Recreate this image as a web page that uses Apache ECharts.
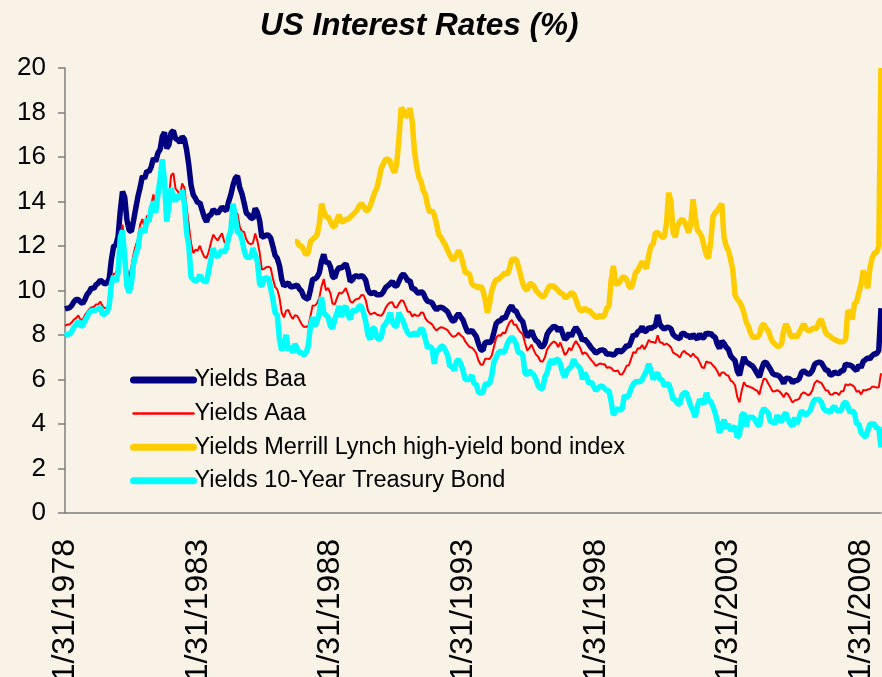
<!DOCTYPE html>
<html><head><meta charset="utf-8">
<script src="https://cdn.jsdelivr.net/npm/echarts@6/dist/echarts.min.js"></script>
<style>html,body{margin:0;padding:0;background:#F9F2E7;}#c{width:882px;height:677px;}</style>
</head><body><div id="c"></div>
<script>
// Month-end observation dates, Jan 1978 .. Oct 2008
const firstYear = 1978;
const lastYear = 2008, lastMonth = 10;
const categories = [];
for (let y = firstYear; y <= lastYear; y++) {
  for (let m = 1; m <= 12; m++) {
    if (y === lastYear && m > lastMonth) break;
    const d = new Date(y, m, 0).getDate();
    categories.push(m + '/' + d + '/' + y);
  }
}
const yTicks = [0, 2, 4, 6, 8, 10, 12, 14, 16, 18, 20];

const seriesNames = ['Yields Baa', 'Yields Aaa', 'Yields Merrill Lynch high-yield bond index', 'Yields 10-Year Treasury Bond'];
const seriesColors = ['#000080', '#FF0000', '#FFCC00', '#00FFFF'];

const baa = [
9.17,9.20,9.22,9.32,9.49,9.60,9.60,9.48,9.42,9.59,9.83,9.94,
10.13,10.08,10.26,10.33,10.47,10.38,10.29,10.35,10.54,11.40,11.99,12.06,
12.42,13.57,14.45,14.19,13.17,12.71,12.65,13.15,13.70,14.23,14.64,15.14,
15.03,15.37,15.34,15.56,15.95,15.80,16.17,16.34,16.92,17.11,16.39,16.55,
17.10,17.18,16.82,16.78,16.64,16.92,16.80,16.32,15.63,14.73,14.30,14.14,
13.94,13.95,13.61,13.29,13.09,13.37,13.39,13.64,13.55,13.46,13.61,13.75,
13.65,13.59,13.99,14.31,14.74,15.05,15.15,14.63,14.35,13.94,13.48,13.40,
13.26,13.23,13.69,13.51,13.15,12.40,12.43,12.50,12.48,12.36,11.99,11.58,
11.44,11.11,10.50,10.19,10.29,10.34,10.16,10.18,10.20,10.24,10.07,9.97,
9.72,9.65,9.61,10.04,10.51,10.52,10.61,10.80,11.31,11.62,11.23,11.29,
11.07,10.62,10.57,10.90,11.04,11.00,11.11,11.21,10.90,10.41,10.48,10.65,
10.65,10.61,10.67,10.61,10.46,10.03,9.87,9.88,9.91,9.81,9.81,9.82,
9.94,10.14,10.21,10.30,10.41,10.22,10.20,10.41,10.64,10.74,10.62,10.43,
10.45,10.07,10.09,9.94,9.86,9.96,9.89,9.65,9.51,9.49,9.45,9.26,
9.13,9.23,9.25,9.21,9.13,9.05,8.84,8.65,8.62,8.84,8.96,8.81,
8.67,8.39,8.15,8.14,8.21,8.07,7.93,7.60,7.34,7.31,7.66,7.69,
7.65,7.76,8.13,8.52,8.62,8.65,8.80,8.74,8.98,9.20,9.32,9.10,
9.08,8.85,8.70,8.60,8.20,7.90,8.04,8.19,7.93,7.75,7.68,7.49,
7.47,7.63,8.03,8.19,8.30,8.40,8.35,8.18,8.35,8.07,7.79,7.89,
8.09,7.94,8.18,8.34,8.20,8.02,7.75,7.82,7.70,7.57,7.42,7.32,
7.19,7.25,7.32,7.33,7.30,7.13,7.15,7.14,7.09,7.18,7.34,7.23,
7.29,7.39,7.53,7.48,7.72,8.02,7.95,8.15,8.20,8.38,8.15,8.19,
8.33,8.29,8.37,8.40,8.90,8.48,8.35,8.26,8.35,8.34,8.28,8.02,
7.93,7.87,7.84,8.07,8.07,7.97,7.97,7.85,8.03,7.91,7.81,8.05,
7.87,7.89,8.11,8.03,8.09,7.95,7.90,7.58,7.40,7.73,7.62,7.45,
7.35,7.06,6.95,6.85,6.38,6.19,6.62,7.01,6.79,6.73,6.66,6.60,
6.44,6.27,6.11,6.46,6.75,6.78,6.62,6.46,6.27,6.21,6.20,6.15,
6.02,5.82,6.06,6.05,6.01,5.86,5.95,5.96,6.03,6.30,6.39,6.32,
6.24,6.27,6.41,6.68,6.75,6.78,6.76,6.59,6.43,6.42,6.20,6.22,
6.34,6.28,6.27,6.39,6.39,6.70,6.65,6.65,6.59,6.48,6.40,6.65,
6.54,6.82,6.89,6.97,6.93,7.07,7.16,7.15,7.31,9.21
];

const aaa = [
8.41,8.47,8.47,8.56,8.69,8.76,8.88,8.69,8.69,8.89,9.03,9.16,
9.25,9.26,9.37,9.38,9.50,9.29,9.20,9.23,9.44,10.13,10.76,10.74,
11.09,12.38,12.96,12.04,10.99,10.58,11.07,11.64,12.02,12.31,12.97,13.21,
12.81,13.35,13.33,13.88,14.32,13.75,14.38,14.89,15.49,15.40,14.22,14.23,
15.18,15.27,14.58,14.46,14.26,14.81,14.61,13.71,12.94,12.12,11.68,11.83,
11.79,12.01,11.73,11.51,11.46,11.74,12.15,12.51,12.37,12.25,12.41,12.57,
12.20,12.08,12.57,12.81,13.28,13.55,13.44,12.87,12.66,12.63,12.29,12.13,
12.08,12.13,12.56,12.23,11.72,10.94,10.97,11.05,11.07,11.02,10.55,10.16,
10.05,9.67,9.00,8.79,9.09,9.13,8.88,8.72,8.89,8.86,8.68,8.49,
8.36,8.38,8.36,8.85,9.33,9.32,9.42,9.67,10.18,10.52,10.01,10.11,
9.88,9.40,9.39,9.67,9.90,9.86,9.96,10.11,9.82,9.51,9.45,9.57,
9.62,9.64,9.80,9.79,9.57,9.10,8.93,8.96,9.01,8.92,8.89,8.86,
8.99,9.22,9.37,9.46,9.47,9.26,9.24,9.41,9.56,9.53,9.30,9.05,
9.04,8.83,8.93,8.86,8.86,9.01,9.00,8.75,8.61,8.55,8.48,8.31,
8.20,8.29,8.35,8.33,8.28,8.22,8.07,7.95,7.92,7.99,8.10,7.98,
7.91,7.71,7.58,7.46,7.43,7.33,7.17,6.85,6.66,6.67,6.93,6.93,
6.92,7.08,7.48,7.88,7.99,7.97,8.11,8.07,8.34,8.57,8.68,8.46,
8.46,8.26,8.12,8.03,7.65,7.30,7.41,7.57,7.32,7.12,7.02,6.82,
6.81,6.99,7.35,7.50,7.62,7.71,7.65,7.46,7.66,7.39,7.10,7.20,
7.42,7.31,7.55,7.73,7.58,7.41,7.14,7.22,7.15,7.00,6.87,6.76,
6.61,6.67,6.72,6.69,6.69,6.53,6.55,6.52,6.40,6.37,6.41,6.22,
6.24,6.40,6.62,6.64,6.93,7.23,7.19,7.40,7.39,7.55,7.36,7.55,
7.78,7.68,7.68,7.64,7.99,7.67,7.65,7.55,7.62,7.55,7.45,7.21,
7.15,7.10,6.98,7.20,7.29,7.18,7.13,7.02,7.17,7.03,6.97,6.77,
6.55,6.51,6.81,6.76,6.75,6.63,6.53,6.37,6.15,6.32,6.31,6.21,
6.17,5.95,5.89,5.74,5.22,4.97,5.49,5.88,5.72,5.70,5.65,5.62,
5.54,5.50,5.33,5.73,6.04,6.01,5.82,5.65,5.46,5.47,5.52,5.47,
5.36,5.20,5.40,5.33,5.15,4.96,5.06,5.09,5.13,5.35,5.42,5.37,
5.29,5.35,5.53,5.84,5.95,5.89,5.85,5.68,5.51,5.51,5.33,5.32,
5.40,5.39,5.30,5.47,5.47,5.79,5.73,5.79,5.74,5.66,5.44,5.49,
5.33,5.53,5.51,5.55,5.57,5.68,5.67,5.64,5.65,6.28
];

// Merrill Lynch high-yield index begins Sep 1986
const mlStartDate = '9/30/1986';
const ml = [
12.2,12.2,12.0,12.0,
11.8,11.6,11.7,12.2,12.3,12.4,12.5,13.0,13.9,13.6,13.3,13.3,
13.1,12.9,12.85,13.2,13.4,13.1,13.1,13.2,13.2,13.3,13.4,13.5,
13.6,13.8,13.9,13.8,13.6,13.6,13.8,14.1,14.4,14.6,15.0,15.5,
15.7,15.9,15.9,15.8,15.5,15.3,15.7,16.8,18.2,18.1,17.8,17.9,
18.2,17.6,16.3,15.6,15.1,14.9,14.5,14.3,13.8,13.5,13.6,13.4,
13.0,12.5,12.4,12.2,12.05,11.8,11.6,11.4,11.4,11.6,11.8,11.6,
11.2,10.8,10.8,10.7,10.3,10.2,10.2,10.1,10.2,10.0,9.6,9.0,
9.4,10.0,10.3,10.5,10.5,10.6,10.7,10.8,10.7,11.0,11.4,11.4,
11.4,11.1,10.7,10.3,10.1,10.0,10.3,10.3,10.2,10.0,9.9,9.8,
9.7,9.8,10.0,10.2,10.2,10.2,10.1,10.0,9.9,9.85,9.7,9.7,
9.8,9.9,9.85,9.6,9.3,9.1,9.1,9.2,9.1,9.1,9.0,8.9,
8.8,8.8,8.9,8.8,8.9,9.2,9.3,10.5,11.1,10.3,10.3,10.4,
10.6,10.6,10.5,10.2,10.1,10.4,10.8,10.9,11.1,11.3,11.1,11.0,
11.6,12.0,12.1,12.6,12.6,12.5,12.4,12.4,13.0,14.4,14.0,12.6,
12.4,12.9,13.1,13.2,13.1,12.9,12.6,13.0,14.1,13.3,12.7,12.6,
12.4,12.0,11.6,11.45,12.2,13.3,13.5,13.6,13.75,13.9,12.4,12.0,
11.8,11.4,10.9,9.8,9.6,9.5,9.3,9.0,8.6,8.4,8.1,7.9,
7.9,7.9,8.0,8.4,8.5,8.3,8.2,7.9,7.7,7.6,7.5,7.5,
7.6,8.2,8.5,8.3,8.0,7.9,8.0,7.9,8.1,8.3,8.5,8.3,
8.2,8.2,8.3,8.3,8.3,8.6,8.7,8.4,8.1,8.0,7.95,7.85,
7.8,7.75,7.7,7.7,7.7,7.8,9.1,9.0,8.7,9.4,9.5,9.9,
10.3,10.9,10.5,10.1,11.0,11.45,11.7,11.7,12.0,20.0
];

const t10 = [
7.96,8.03,8.04,8.15,8.35,8.46,8.64,8.41,8.42,8.64,8.81,9.01,
9.10,9.10,9.12,9.18,9.25,8.91,8.95,9.03,9.33,10.30,10.65,10.39,
10.8,12.4,12.7,11.5,10.2,9.9,10.3,11.2,11.6,11.9,12.6,12.8,
12.6,13.2,13.1,13.7,14.0,13.5,14.3,15.0,15.9,14.9,13.1,13.8,
14.6,14.2,14.0,14.3,14.1,14.5,13.9,12.6,12.0,10.6,10.5,10.4,
10.5,10.7,10.5,10.4,10.4,10.9,11.4,11.9,11.6,11.5,11.7,11.8,
11.7,11.9,12.4,12.7,13.9,13.3,12.6,12.6,12.3,11.8,11.5,11.5,
11.5,11.9,11.6,11.3,10.3,10.2,10.6,10.5,10.6,10.1,9.6,9.0,
8.9,7.8,7.3,7.6,8.0,7.3,7.5,7.2,7.6,7.4,7.2,7.2,
7.1,7.2,7.5,8.4,8.8,8.4,8.6,9.0,9.7,9.0,8.9,8.8,
8.4,8.3,8.7,9.0,9.3,8.8,9.2,9.3,8.9,8.7,9.1,9.1,
9.1,9.3,9.3,9.0,8.6,8.0,7.8,8.3,8.3,7.9,7.8,7.9,
8.4,8.5,8.7,9.0,8.6,8.4,8.4,9.0,8.8,8.6,8.3,8.1,
8.0,8.0,8.1,8.0,8.1,8.3,8.2,7.8,7.4,7.5,7.4,6.7,
7.3,7.3,7.5,7.5,7.3,7.1,6.6,6.6,6.4,6.8,6.9,6.7,
6.4,6.0,6.0,6.0,6.2,5.8,5.8,5.4,5.4,5.4,5.8,5.8,
5.8,6.2,6.8,7.0,7.2,7.3,7.2,7.3,7.6,7.8,7.9,7.8,
7.6,7.2,7.2,7.1,6.3,6.2,6.4,6.3,6.2,6.0,5.7,5.6,
5.6,6.1,6.3,6.7,6.9,6.7,6.9,6.9,6.7,6.3,6.1,6.4,
6.5,6.6,6.9,6.7,6.6,6.5,6.0,6.3,6.1,5.8,5.9,5.7,
5.5,5.6,5.7,5.7,5.6,5.5,5.5,5.0,4.4,4.6,4.7,4.6,
4.7,5.3,5.2,5.3,5.6,5.8,5.9,5.9,5.9,6.0,6.2,6.4,
6.7,6.4,6.0,6.2,6.3,6.0,6.0,5.7,5.8,5.8,5.5,5.1,
5.1,4.9,4.9,5.3,5.4,5.4,5.1,4.8,4.6,4.3,4.8,5.1,
5.0,4.9,5.4,5.1,5.0,4.8,4.5,4.1,3.6,3.9,4.2,3.8,
4.0,3.7,3.8,3.9,3.4,3.5,4.4,4.5,3.9,4.3,4.3,4.3,
4.2,4.0,3.9,4.5,4.7,4.6,4.5,4.1,4.1,4.0,4.4,4.2,
4.1,4.4,4.5,4.2,4.0,3.9,4.3,4.0,4.3,4.6,4.5,4.4,
4.5,4.6,4.9,5.1,5.1,5.1,5.0,4.7,4.6,4.6,4.5,4.7,
4.8,4.6,4.6,4.6,4.9,5.0,4.8,4.5,4.6,4.5,4.0,4.0,
3.6,3.5,3.4,3.7,4.0,4.0,4.0,3.8,3.85,2.95
];

const mlOffset = categories.indexOf(mlStartDate);
const mlSeriesData = categories.map((c, i) => (i >= mlOffset && i - mlOffset < ml.length) ? ml[i - mlOffset] : null);

const lineWidths = [5.5, 2, 5.5, 5.5];
const legendWidths = [7, 2.5, 7, 7];

const chart = echarts.init(document.getElementById('c'), null, {renderer: 'canvas'});
const FONT = 'Arial, "Liberation Sans", sans-serif';
chart.setOption({
  backgroundColor: '#F9F2E7',
  animation: false,
  title: {
    text: 'US Interest Rates (%)',
    left: 255, top: 5,
    textStyle: {fontSize: 31.5, fontWeight: 'bold', fontStyle: 'italic', fontFamily: FONT, color: '#000'}
  },
  grid: {left: 65, right: 1, top: 68, bottom: 164, containLabel: false, outerBoundsMode: 'none'},
  legend: {
    orient: 'vertical', left: 130, top: 368, padding: 0,
    itemWidth: 60, itemHeight: 14, itemGap: 9.6,
    itemStyle: {opacity: 0},
    data: seriesNames.map((n, i) => ({
      name: n,
      itemStyle: {opacity: 0},
      lineStyle: {width: legendWidths[i], color: seriesColors[i], cap: 'round'}
    })),
    textStyle: {fontSize: 23.5, fontFamily: FONT, color: '#000', lineHeight: 24, padding: [0, 0, 0, -4]}
  },
  xAxis: {
    type: 'category', data: categories, boundaryGap: false,
    axisLine: {lineStyle: {color: '#7f7f7f', width: 1.5}},
    axisTick: {show: false},
    axisLabel: {interval: 59, rotate: 90, margin: 26, fontSize: 32, fontFamily: FONT, color: '#000'},
    splitLine: {show: false}
  },
  yAxis: {
    type: 'value', min: yTicks[0], max: yTicks[yTicks.length - 1], interval: 2,
    axisLine: {show: true, lineStyle: {color: '#7f7f7f', width: 1.5}},
    axisTick: {show: true, inside: false, length: 7, lineStyle: {color: '#7f7f7f', width: 1.5}},
    axisLabel: {margin: 19, fontSize: 26, fontFamily: FONT, color: '#000'},
    splitLine: {show: false}
  },
  series: [
    {name: seriesNames[0], type: 'line', data: baa, symbol: 'none', color: seriesColors[0], lineStyle: {width: lineWidths[0], color: seriesColors[0]}, z: 2},
    {name: seriesNames[1], type: 'line', data: aaa, symbol: 'none', color: seriesColors[1], lineStyle: {width: lineWidths[1], color: seriesColors[1]}, z: 3},
    {name: seriesNames[2], type: 'line', data: mlSeriesData, symbol: 'none', color: seriesColors[2], lineStyle: {width: lineWidths[2], color: seriesColors[2]}, z: 4},
    {name: seriesNames[3], type: 'line', data: t10, symbol: 'none', color: seriesColors[3], lineStyle: {width: lineWidths[3], color: seriesColors[3]}, z: 5}
  ]
});
</script></body></html>
